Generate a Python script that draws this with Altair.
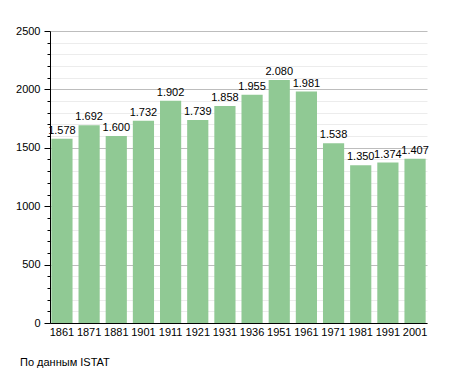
import altair as alt
import pandas as pd

years = ["1861", "1871", "1881", "1901", "1911", "1921", "1931", "1936", "1951", "1961", "1971", "1981", "1991", "2001"]
population = [1578, 1692, 1600, 1732, 1902, 1739, 1858, 1955, 2080, 1981, 1538, 1350, 1374, 1407]
y_ticks = list(range(0, 2501, 100))

df = pd.DataFrame({"year": years, "pop": population})
df["label"] = [f"{v:,}".replace(",", ".") for v in population]

font = "Liberation Sans"

x_enc = alt.X("year:N", sort=None, title=None,
              scale=alt.Scale(paddingInner=0.22, paddingOuter=0.05),
              axis=alt.Axis(labelAngle=0, ticks=False, domainColor="black", grid=False,
                            labelFontSize=11, labelColor="black", labelFont=font,
                            labelPadding=3))
y_enc = alt.Y("pop:Q", title=None,
              scale=alt.Scale(domain=[0, 2500], nice=False, zero=True),
              axis=alt.Axis(values=y_ticks, domainColor="black", grid=True,
                            tickColor="black", labelOverlap=False,
                            tickSize={"condition": {"test": "datum.value % 500 === 0", "value": 6}, "value": 3},
                            gridColor={"condition": {"test": "datum.value % 500 === 0", "value": "#bdbdbd"}, "value": "#ececec"},
                            labelExpr="datum.value % 500 === 0 ? format(datum.value, 'd') : ''",
                            labelFontSize=11, labelColor="black", labelFont=font,
                            labelPadding=4))

base = alt.Chart(df).encode(x=x_enc, y=y_enc)
bars = base.mark_bar(color="#90c994")
text = base.mark_text(baseline="bottom", dy=-3, fontSize=11, font=font, color="black").encode(text="label:N")

chart = alt.layer(bars, text).properties(
    width=377, height=292,
    title=alt.TitleParams("По данным ISTAT", orient="bottom", anchor="start", frame="group",
                          dx=-30, offset=20,
                          fontSize=11, font=font, fontWeight="normal", color="black"),
    autosize=alt.AutoSizeParams(type="none"),
    padding={"left": 42, "top": 23, "right": 20, "bottom": 50},
).configure_view(stroke=None)

chart.save("out.html", embed_options={"renderer": "svg", "actions": False})
